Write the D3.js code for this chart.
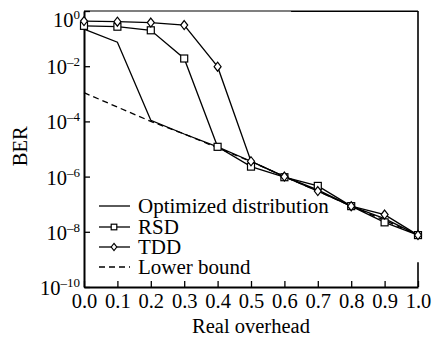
<!DOCTYPE html>
<html>
<head>
<meta charset="utf-8">
<script src="https://cdn.jsdelivr.net/npm/d3@7"></script>
<style>
  body { margin: 0; background: #fff; }
  svg text { font-family: "Liberation Serif", Tinos, "Nimbus Roman", "Times New Roman", Times, "DejaVu Serif", serif !important; fill: #000; }
</style>
</head>
<body>
<div id="d3-container"></div>
<script>
/* CONSTANTS AND GLOBALS */
const width = 438,
  height = 339,
  margin = { top: 11, bottom: 52, left: 84, right: 20 };

/* DATA */
const overhead = [0.0, 0.1, 0.2, 0.3, 0.4, 0.5, 0.6, 0.7, 0.8, 0.9, 1.0];
const optimized = [0.22, 0.074, 1.1e-4, 3.5e-5, 1.2e-5, 3.6e-6, 1.0e-6, 3.3e-7, 8.5e-8, 3.0e-8, 7.6e-9];
const rsd = [0.29, 0.27, 0.2, 0.019, 1.2e-5, 2.3e-6, 0.95e-6, 4.6e-7, 8.5e-8, 2.2e-8, 7.6e-9];
const tdd = [0.43, 0.41, 0.38, 0.31, 9.6e-3, 3.6e-6, 1.0e-6, 3.0e-7, 8.5e-8, 4.2e-8, 7.6e-9];
const lowerBound = [1.1e-3, 3.3e-4, 1.0e-4, 3.5e-5, 1.1e-5, 3.5e-6, 1.0e-6, 3.0e-7, 8.5e-8, 2.6e-8, 7.6e-9];
const xTicks = [0, 0.1, 0.2, 0.3, 0.4, 0.5, 0.6, 0.7, 0.8, 0.9, 1.0];
const yTickExp = [0, -2, -4, -6, -8, -10];

const series = [
  { name: "Optimized distribution", values: optimized, dash: null, marker: null },
  { name: "RSD", values: rsd, dash: null, marker: "square" },
  { name: "TDD", values: tdd, dash: null, marker: "diamond" },
  { name: "Lower bound", values: lowerBound, dash: "6,4", marker: null }
];

// SCALES
const xScale = d3.scaleLinear()
  .domain([0, 1])
  .range([margin.left, width - margin.right]);

const yScale = d3.scaleLog()
  .domain([1e-10, 1])
  .range([height - margin.bottom, margin.top]);

const svg = d3.select("#d3-container")
  .append("svg")
  .attr("width", width)
  .attr("height", height);

// frame: top and right (right edge has a small gap in the original)
svg.append("line")
  .attr("x1", xScale(0)).attr("x2", xScale(1))
  .attr("y1", yScale(1)).attr("y2", yScale(1))
  .attr("stroke", "#000").attr("stroke-width", 1.2);
svg.append("line")
  .attr("x1", xScale(0.62)).attr("x2", xScale(1))
  .attr("y1", yScale(1) + 0.5).attr("y2", yScale(1) + 0.5)
  .attr("stroke", "#000").attr("stroke-width", 1.2);
svg.append("line")
  .attr("x1", xScale(1)).attr("x2", xScale(1))
  .attr("y1", yScale(1)).attr("y2", yScale(10 ** -8.15))
  .attr("stroke", "#000").attr("stroke-width", 1.6);
svg.append("line")
  .attr("x1", xScale(1)).attr("x2", xScale(1))
  .attr("y1", yScale(10 ** -9.1)).attr("y2", yScale(1e-10))
  .attr("stroke", "#000").attr("stroke-width", 1.6);

// AXES
const xAxis = d3.axisBottom(xScale)
  .tickValues(xTicks)
  .tickSizeInner(-6)
  .tickSizeOuter(0)
  .tickPadding(6)
  .tickFormat(d3.format(".1f"));

const xg = svg.append("g")
  .attr("transform", `translate(0, ${height - margin.bottom})`)
  .call(xAxis);
xg.select(".domain").attr("stroke-width", 2);
xg.selectAll(".tick line").attr("stroke-width", 1.3);
xg.selectAll(".tick text")
  .style("font-size", "20.5px");

const yAxis = d3.axisLeft(yScale)
  .tickValues(yTickExp.map(e => 10 ** e))
  .tickSizeInner(-6)
  .tickSizeOuter(0)
  .tickFormat("");

const yg = svg.append("g")
  .attr("transform", `translate(${margin.left}, 0)`)
  .call(yAxis);
yg.select(".domain").attr("stroke-width", 2);
yg.selectAll(".tick line").attr("stroke-width", 1.3);

// y tick labels as 10 with a superscript
const yLabels = svg.append("g");
yTickExp.forEach(e => {
  const t = yLabels.append("text")
    .attr("x", margin.left - 4)
    .attr("y", yScale(10 ** e) + (e === 0 ? 16 : 8))
    .attr("text-anchor", "end")
    .style("font-size", "20.5px");
  t.append("tspan").text("10");
  t.append("tspan")
    .attr("dy", -8)
    .style("font-size", "13px")
    .text(e === 0 ? "0" : "\u2013" + Math.abs(e));
});

// axis titles
svg.append("text")
  .attr("x", (xScale(0) + xScale(1)) / 2)
  .attr("y", 333)
  .attr("text-anchor", "middle")
  .style("font-size", "20.5px")
  .text("Real overhead");

svg.append("text")
  .attr("transform", `translate(27, ${yScale(10 ** -4.9)}) rotate(-90)`)
  .attr("text-anchor", "middle")
  .style("font-size", "20.5px")
  .text("BER");

// LINES
const line = d3.line()
  .x((d, i) => xScale(overhead[i]))
  .y(d => yScale(d));

svg.selectAll(".series")
  .data(series)
  .join("path")
  .attr("class", "series")
  .attr("d", d => line(d.values))
  .attr("fill", "none")
  .attr("stroke", "#000")
  .attr("stroke-width", 1.3)
  .attr("stroke-dasharray", d => d.dash);

// MARKERS
function drawMarker(g, type, x, y, s = 1) {
  if (type === "square") {
    g.append("rect")
      .attr("x", x - 3.5 * s).attr("y", y - 3.5 * s)
      .attr("width", 7 * s).attr("height", 7 * s)
      .attr("fill", "#fff").attr("stroke", "#000").attr("stroke-width", 1.2);
  } else if (type === "diamond") {
    g.append("path")
      .attr("d", `M${x},${y - 4.5 * s}L${x + 3.5 * s},${y}L${x},${y + 4.5 * s}L${x - 3.5 * s},${y}Z`)
      .attr("fill", "#fff").attr("stroke", "#000").attr("stroke-width", 1.2);
  }
}

const markers = svg.append("g");
series.filter(s => s.marker).forEach(s => {
  s.values.forEach((v, i) => drawMarker(markers, s.marker, xScale(overhead[i]), yScale(v)));
});

// LEGEND
const legendRows = [206, 227, 247, 267];
const legend = svg.append("g");
series.forEach((s, i) => {
  const y = legendRows[i];
  legend.append("line")
    .attr("x1", 99).attr("x2", 130)
    .attr("y1", y).attr("y2", y)
    .attr("stroke", "#000")
    .attr("stroke-width", 1.3)
    .attr("stroke-dasharray", s.dash);
  if (s.marker) drawMarker(legend, s.marker, 114, y, 0.8);
  legend.append("text")
    .attr("x", 138)
    .attr("y", y + 7)
    .style("font-size", "21px")
    .text(s.name);
});
</script>
</body>
</html>
